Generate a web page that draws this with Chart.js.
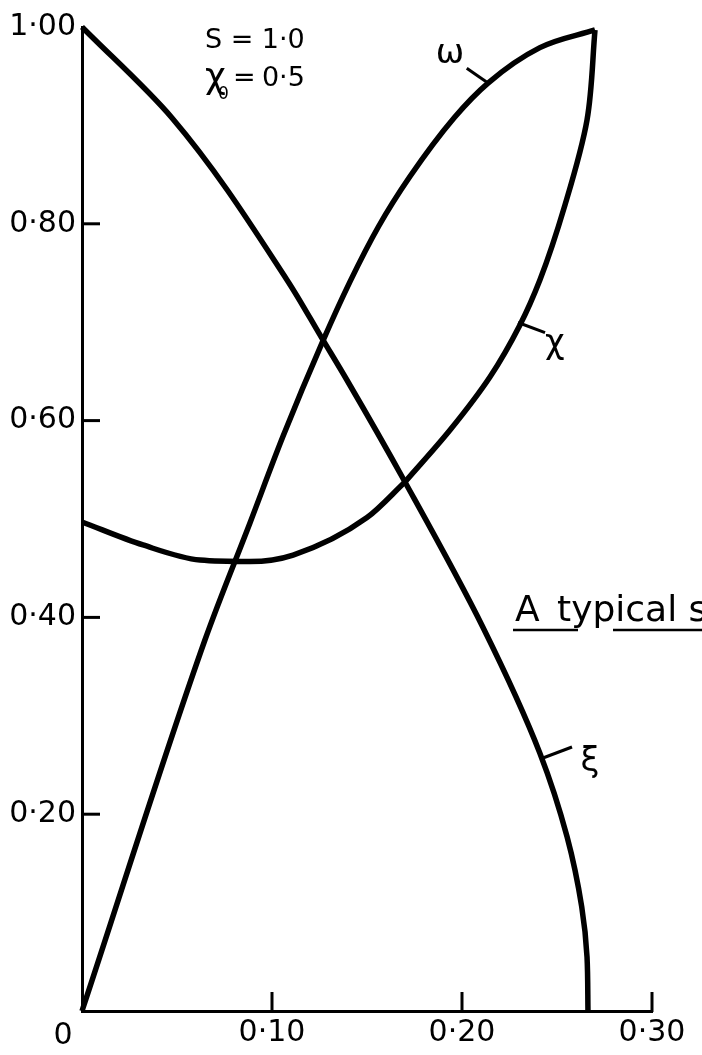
<!DOCTYPE html>
<html>
<head>
<meta charset="utf-8">
<script src="https://cdn.jsdelivr.net/npm/chart.js@4"></script>
<style>
  html, body { margin: 0; padding: 0; background: #fff; }
  #wrap { width: 702px; height: 1055px; }
</style>
</head>
<body>
<div id="wrap"><canvas id="plot" width="702" height="1055"></canvas></div>
<script>
// omega, chi and xi along the horizontal coordinate, S = 1.0, chi0 = 0.5
const omegaX = [0, 0.0647, 0.0884, 0.1058, 0.1268, 0.141, 0.156, 0.1726, 0.196, 0.2137, 0.241, 0.27];
const omegaY = [0, 0.377, 0.496, 0.584, 0.681, 0.741, 0.797, 0.848, 0.908, 0.943, 0.979, 0.997];

// chi in two runs that meet where it crosses xi: the dip, then the climb to the top
const chiLowX = [0, 0.0321, 0.0621, 0.0884, 0.1111, 0.15, 0.17];
const chiLowY = [0.497, 0.4736, 0.4583, 0.4568, 0.4634, 0.5015, 0.5376];
const chiHighX = [0.17, 0.1937, 0.2147, 0.2305, 0.241, 0.2542, 0.2658, 0.27];
const chiHighY = [0.5376, 0.5904, 0.6443, 0.6972, 0.7429, 0.8191, 0.9055, 0.997];

const xiX = [0, 0.0474, 0.1079, 0.1268, 0.1395, 0.170, 0.211, 0.241, 0.2553, 0.263, 0.2658, 0.2663];
const xiY = [1.0, 0.9075, 0.743, 0.682, 0.641, 0.5376, 0.390, 0.262, 0.177, 0.106, 0.055, 0];

const xTickValues = [0, 0.1, 0.2, 0.3];
const yTickValues = [0, 0.2, 0.4, 0.6, 0.8, 1.0];

const FONT = '"DejaVu Sans", sans-serif';
const fmt = v => v === 0 ? '' : v.toFixed(2).replace('.', '\u00b7');
const pairs = (xs, ys) => xs.map((x, i) => ({ x, y: ys[i] }));

function curve(label, xs, ys, extra) {
  return Object.assign({
    label,
    data: pairs(xs, ys),
    showLine: true,
    borderColor: '#000',
    borderWidth: 5.5,
    pointRadius: 0,
    cubicInterpolationMode: 'monotone',
    clip: false
  }, extra);
}

// hand-lettered bits: inward ticks, corner zero, curve names, parameters
const paperMarks = {
  id: 'paperMarks',
  afterDraw(chart) {
    const { ctx, scales: { x, y } } = chart;
    const P = (vx, vy) => [x.getPixelForValue(vx), y.getPixelForValue(vy)];
    ctx.save();
    ctx.strokeStyle = '#000';
    ctx.fillStyle = '#000';
    ctx.lineWidth = 3;

    xTickValues.filter(v => v > 0).forEach(v => {
      const px = x.getPixelForValue(v);
      ctx.beginPath();
      ctx.moveTo(px, y.bottom + 1);
      ctx.lineTo(px, y.bottom - 19);
      ctx.stroke();
    });
    yTickValues.filter(v => v > 0 && v < 1).forEach(v => {
      const py = y.getPixelForValue(v);
      ctx.beginPath();
      ctx.moveTo(x.left, py);
      ctx.lineTo(x.left + 18, py);
      ctx.stroke();
    });

    // origin label sits below and left of the corner
    ctx.font = '30px ' + FONT;
    ctx.textAlign = 'center';
    ctx.textBaseline = 'alphabetic';
    ctx.fillText('0', x.left - 19, y.bottom + 33);

    // curve names with short leaders
    const tags = [
      { t: '\u03c9', from: [0.2137, 0.9431], to: [0.2025, 0.9580], at: [0.1937, 0.9726] },
      { t: '\u03c7', from: [0.2295, 0.6997], to: [0.2437, 0.6895], at: [0.2489, 0.6773] },
      { t: '\u03be', from: [0.2426, 0.2571], to: [0.2579, 0.2683], at: [0.2674, 0.2530] }
    ];
    ctx.lineWidth = 3;
    ctx.font = '34px ' + FONT;
    ctx.textBaseline = 'middle';
    tags.forEach(g => {
      const a = P(...g.from), b = P(...g.to), c = P(...g.at);
      ctx.beginPath();
      ctx.moveTo(a[0], a[1]);
      ctx.lineTo(b[0], b[1]);
      ctx.stroke();
      ctx.fillText(g.t, c[0], c[1]);
    });

    // parameters
    const s = P(0.0647, 0.979);
    ctx.textAlign = 'left';
    ctx.textBaseline = 'alphabetic';
    ctx.font = '27px ' + FONT;
    ctx.fillText('S = 1\u00b70', s[0], s[1]);
    ctx.font = '36px ' + FONT;
    ctx.fillText('\u03c7', s[0], s[1] + 40);
    ctx.font = '17px ' + FONT;
    ctx.fillText('0', s[0] + 13, s[1] + 51);
    ctx.font = '27px ' + FONT;
    ctx.fillText('=', s[0] + 28, s[1] + 38);
    ctx.fillText('0\u00b75', s[0] + 57, s[1] + 38);

    // caption running off the sheet
    const t = P(0.2279, 0.3963);
    ctx.font = '36px ' + FONT;
    ctx.fillText('A', t[0], t[1]);
    ctx.fillText('typical s', t[0] + 42, t[1]);
    ctx.lineWidth = 2.5;
    ctx.beginPath();
    ctx.moveTo(t[0] - 2, t[1] + 9);
    ctx.lineTo(t[0] + 63, t[1] + 9);
    ctx.moveTo(t[0] + 98, t[1] + 9);
    ctx.lineTo(t[0] + 200, t[1] + 9);
    ctx.stroke();
    ctx.restore();
  }
};

new Chart(document.getElementById('plot'), {
  type: 'scatter',
  data: {
    datasets: [
      curve('\u03c9', omegaX, omegaY),
      curve('\u03c7', chiLowX, chiLowY),
      // the upper run of chi and all of xi steepen towards vertical,
      // so they are interpolated along y
      curve('\u03c7', chiHighX, chiHighY, { indexAxis: 'y' }),
      curve('\u03be', xiX, xiY, { indexAxis: 'y' })
    ]
  },
  options: {
    responsive: false,
    animation: false,
    layout: { padding: { top: 27, right: 50, left: 0, bottom: 0 } },
    plugins: { legend: { display: false }, tooltip: { enabled: false } },
    scales: {
      x: {
        type: 'linear',
        min: 0,
        max: 0.3,
        afterBuildTicks: s => { s.ticks = xTickValues.map(v => ({ value: v })); },
        afterFit: s => { s.height = 44; },
        grid: { display: false, drawTicks: false },
        border: { display: true, color: '#000', width: 3 },
        ticks: {
          color: '#000',
          font: { family: FONT, size: 30 },
          padding: 4,
          maxRotation: 0,
          autoSkip: false,
          callback: v => fmt(v)
        }
      },
      y: {
        type: 'linear',
        min: 0,
        max: 1.0,
        afterBuildTicks: s => { s.ticks = yTickValues.map(v => ({ value: v })); },
        afterFit: s => { s.width = 82; },
        grid: { display: false, drawTicks: false },
        border: { display: true, color: '#000', width: 3 },
        ticks: {
          color: '#000',
          font: { family: FONT, size: 30 },
          padding: 6,
          autoSkip: false,
          callback: v => fmt(v)
        }
      }
    }
  },
  plugins: [paperMarks]
});
</script>
</body>
</html>
